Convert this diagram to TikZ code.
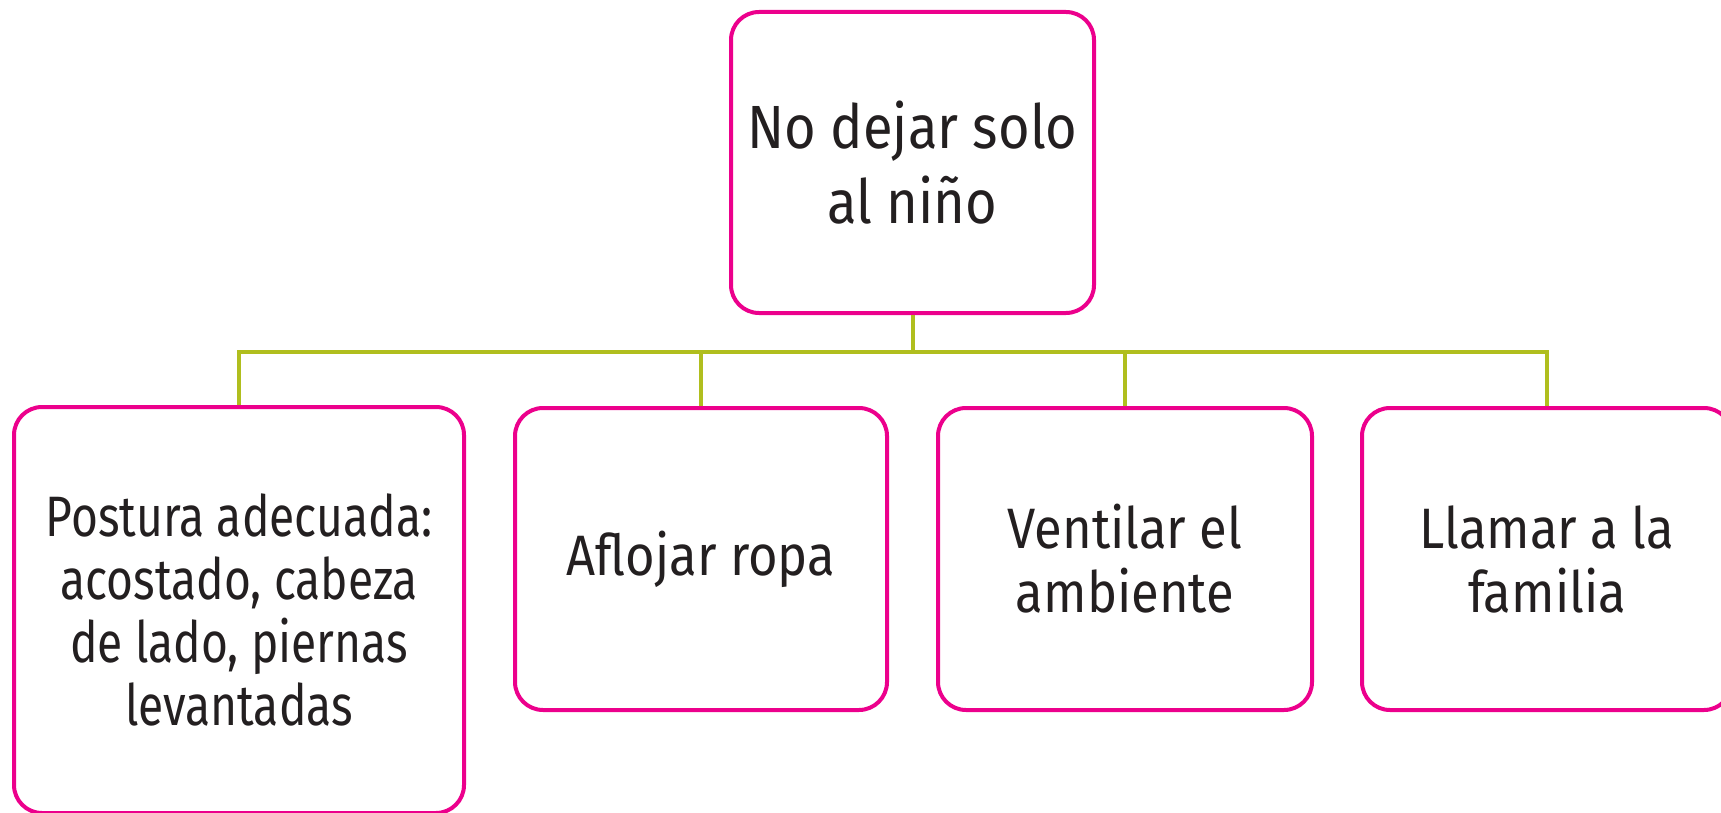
\documentclass[tikz,border=0pt]{standalone}
\usepackage{fontspec}
\setmainfont[FakeStretch=0.89]{Fira Sans}
\newfontfamily\narrowf[FakeStretch=0.81]{Fira Sans}
\definecolor{pinkc}{HTML}{EC008C}
\definecolor{greenc}{HTML}{B0BE1E}
\definecolor{textc}{HTML}{231F20}
\begin{document}
\begin{tikzpicture}[x=1pt,y=-1pt,
  box/.style={draw=pinkc, line width=4pt, rounded corners=28pt, inner sep=0pt,
    align=center, text=textc},
  topfont/.style={font=\fontsize{61}{75}\selectfont},
  subfont/.style={font=\fontsize{57}{64}\selectfont},
  narrowfont/.style={font=\narrowf\fontsize{57}{63}\selectfont},
  link/.style={draw=greenc, line width=4pt}]
\useasboundingbox (0,0) rectangle (1721,813);
\clip (0,0) rectangle (1721,813);
\node[box, topfont, minimum width=363pt, minimum height=301pt] (top) at (912.5,162.5) {No dejar solo\\al niño};
\node[box, narrowfont, minimum width=450pt, minimum height=406pt] (b1) at (239,610) {Postura adecuada:\\acostado, cabeza\\de lado, piernas\\levantadas};
\node[box, subfont, minimum width=372pt, minimum height=302pt] (b2) at (701,559) {Aflojar ropa};
\node[box, subfont, minimum width=374pt, minimum height=302pt] (b3) at (1125,559) {Ventilar el\\ambiente};
\node[box, subfont, minimum width=370pt, minimum height=302pt] (b4) at (1547,559) {Llamar a la\\familia};
\coordinate (bus) at (0,352);
\draw[link] (top.south) -- (top.south |- bus);
\draw[link] (b1.north) -- (b1.north |- bus) -- (b4.north |- bus) -- (b4.north);
\draw[link] (b2.north) -- (b2.north |- bus);
\draw[link] (b3.north) -- (b3.north |- bus);
\end{tikzpicture}
\end{document}
